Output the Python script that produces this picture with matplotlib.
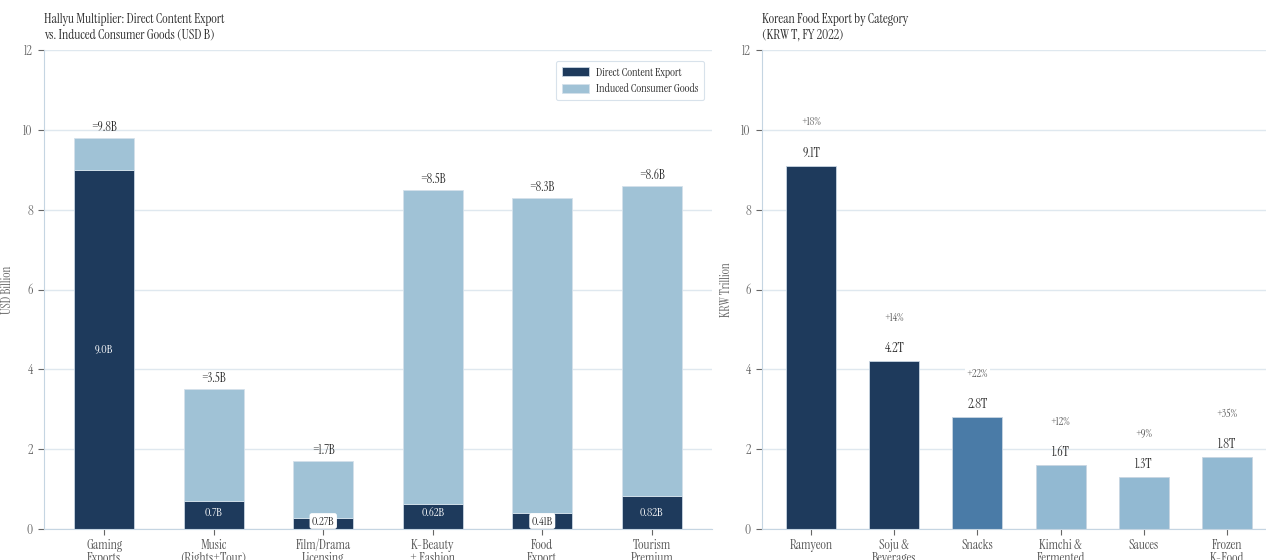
import matplotlib
matplotlib.use("Agg")
import matplotlib.pyplot as plt
import numpy as np

# ---- data ----
content_cats = ["Gaming\nExports", "Music\n(Rights+Tour)", "Film/Drama\nLicensing",
                "K-Beauty\n+ Fashion", "Food\nExport", "Tourism\nPremium"]
direct_export = [9.0, 0.7, 0.27, 0.62, 0.41, 0.82]
total_value = [9.8, 3.5, 1.7, 8.5, 8.3, 8.6]

food_cats = ["Ramyeon", "Soju &\nBeverages", "Snacks", "Kimchi &\nFermented", "Sauces", "Frozen\nK-Food"]
food_export = [9.1, 4.2, 2.8, 1.6, 1.3, 1.8]
food_growth = ["+18%", "+14%", "+22%", "+12%", "+9%", "+35%"]

NAVY = "#1e3a5c"
LIGHT = "#a0c2d6"
MID = "#4a7ba7"
PALE = "#92b9d2"
GRID = "#dfe8ef"
SPINE = "#c5d5e2"
TXT = "#2b2b2b"
GRAY = "#666666"

plt.rcParams["font.family"] = ["Instrument Serif", "Liberation Serif", "DejaVu Serif"]

W, H = 1266, 560
fig = plt.figure(figsize=(W / 100, H / 100), dpi=100)

def px_axes(x0, x1, ytop, ybot):
    return fig.add_axes([x0 / W, 1 - ybot / H, (x1 - x0) / W, (ybot - ytop) / H])

def style(ax, ylabel, label_x):
    ax.set_ylim(0, 12)
    ax.set_yticks(range(0, 13, 2))
    ax.grid(axis="y", color=GRID, linewidth=1)
    ax.set_axisbelow(True)
    for s in ["top", "right"]:
        ax.spines[s].set_visible(False)
    ax.spines["left"].set_color(SPINE)
    ax.spines["bottom"].set_color(SPINE)
    ax.tick_params(axis="both", colors=GRAY, labelsize=9.5, length=4, width=0.8, pad=4)
    ax.tick_params(axis="x", labelcolor="#555555", pad=3)
    ax.set_ylabel(ylabel, fontsize=9, color=GRAY)
    ax.yaxis.set_label_coords(label_x, 0.5)

# ---- left: stacked content export ----
ax1 = px_axes(44, 712, 50, 529)
x1 = np.arange(len(content_cats))
induced = [t - d for t, d in zip(total_value, direct_export)]
ax1.bar(x1, direct_export, width=0.55, color=NAVY, edgecolor="#c9d6e2", linewidth=0.6,
        label="Direct Content Export")
ax1.bar(x1, induced, width=0.55, bottom=direct_export, color=LIGHT, edgecolor="#d4e1eb",
        linewidth=0.6, label="Induced Consumer Goods")
ax1.set_xlim(-0.55, 5.55)
ax1.set_xticks(x1)
ax1.set_xticklabels(content_cats, fontsize=9.5, linespacing=1.05)
style(ax1, "USD Billion", -0.045)

for xi, d, t in zip(x1, direct_export, total_value):
    ax1.text(xi, t + 0.1, f"={t:.1f}B", ha="center", va="bottom", fontsize=9, color=TXT)
    if d < 0.5:
        ax1.text(xi, 0.2, f"{d:g}B", ha="center", va="center", fontsize=8.5, color=TXT,
                 bbox=dict(boxstyle="round,pad=0.2", fc="white", ec="none"))
    else:
        lab = f"{d:.1f}B" if d >= 1 else f"{d:g}B"
        ax1.text(xi, max(d / 2, 0.42), lab, ha="center", va="center", fontsize=8.5, color="white")

leg = ax1.legend(loc="upper right", fontsize=8.5, frameon=True, handlelength=2.3, handleheight=0.8,
                 borderpad=0.5, labelspacing=0.5, handletextpad=0.6, bbox_to_anchor=(0.997, 0.99))
leg.get_frame().set_edgecolor("#cfdbe6")
leg.get_frame().set_linewidth(0.8)
for t in leg.get_texts():
    t.set_color(TXT)

fig.text(44 / W, 1 - 13 / H, "Hallyu Multiplier: Direct Content Export\nvs. Induced Consumer Goods (USD B)",
         ha="left", va="top", fontsize=9.6, color=TXT, linespacing=1.2)

# ---- right: food export by category ----
ax2 = px_axes(762, 1266, 50, 529)
x2 = np.arange(len(food_cats))
food_colors = [NAVY, NAVY, MID, PALE, PALE, PALE]
ax2.bar(x2, food_export, width=0.6, color=food_colors, edgecolor="#c9d6e2", linewidth=0.6)
ax2.set_xlim(-0.59, 5.47)
ax2.set_xticks(x2)
ax2.set_xticklabels(food_cats, fontsize=9.5, linespacing=1.05)
style(ax2, "KRW Trillion", -0.058)

for xi, v, g in zip(x2, food_export, food_growth):
    ax2.text(xi, v + 0.15, f"{v:.1f}T", ha="center", va="bottom", fontsize=9.5, color=TXT)
    ax2.text(xi, v + 1.1, g, ha="center", va="center", fontsize=8, color="#555555",
             bbox=dict(boxstyle="square,pad=0.15", fc="white", ec="none"))

fig.text(762 / W, 1 - 13 / H, "Korean Food Export by Category\n(KRW T, FY 2022)",
         ha="left", va="top", fontsize=9.6, color=TXT, linespacing=1.2)

fig.savefig("out.png", dpi=100, facecolor="white")
